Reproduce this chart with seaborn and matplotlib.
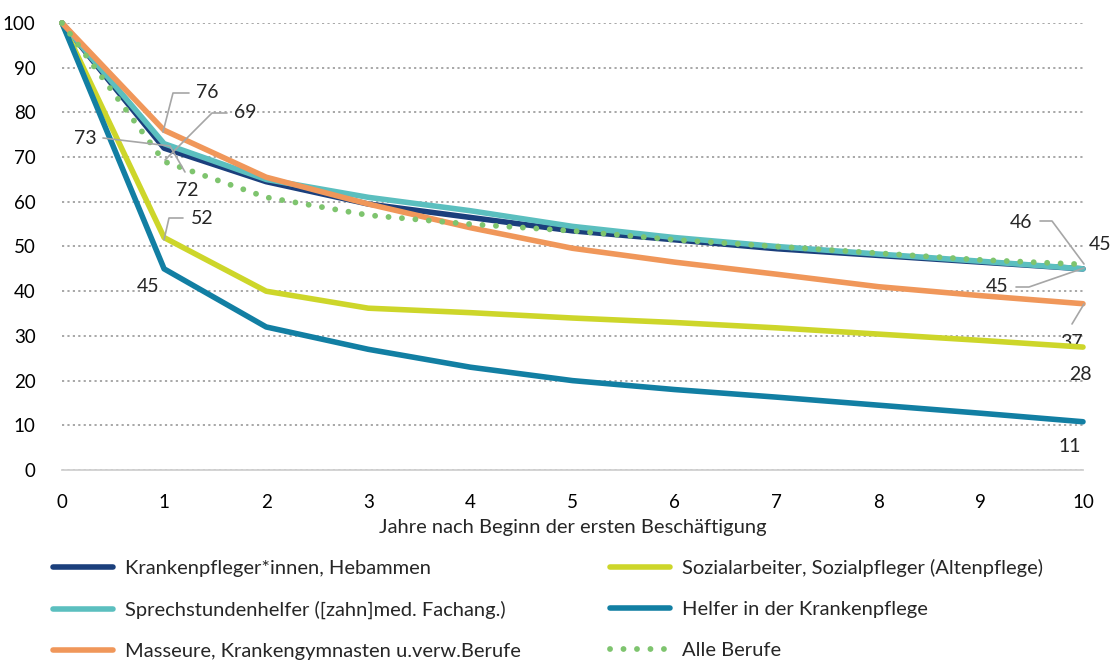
import numpy as np
import pandas as pd
import matplotlib
matplotlib.use("Agg")
import matplotlib.pyplot as plt
import seaborn as sns

# === Data ===
years = list(range(0, 11))
krankenpfleger = [100, 72, 64.5, 59.5, 56.5, 53.5, 51.5, 49.5, 48, 46.5, 45]
sozialarbeiter = [100, 52, 40, 36.2, 35.2, 34, 33, 31.8, 30.4, 29, 27.5]
sprechstunde = [100, 73, 65, 61, 58, 54.5, 52, 50, 48.3, 46.7, 45]
helfer = [100, 45, 32, 27, 23, 20, 18, 16.3, 14.5, 12.7, 10.8]
masseure = [100, 76, 65.5, 59.5, 54.2, 49.6, 46.5, 43.8, 41, 39, 37.2]
alle = [100, 69, 61, 57, 55, 53.5, 51.5, 50, 48.5, 47, 46]

names = [
    "Krankenpfleger*innen, Hebammen",
    "Sozialarbeiter, Sozialpfleger (Altenpflege)",
    "Sprechstundenhelfer ([zahn]med. Fachang.)",
    "Helfer in der Krankenpflege",
    "Masseure, Krankengymnasten u.verw.Berufe",
    "Alle Berufe",
]
colors = ["#1b3f7c", "#cdd62a", "#5bbfbf", "#127fa3", "#f0975a", "#7ec46e"]

df = pd.DataFrame({
    "Jahr": years * 6,
    "Wert": krankenpfleger + sozialarbeiter + sprechstunde + helfer + masseure + alle,
    "Beruf": sum([[n] * len(years) for n in names], []),
})

sns.set_theme(style="white")
plt.rcParams["font.family"] = ["Lato", "DejaVu Sans"]

fig = plt.figure(figsize=(11.15, 6.62), dpi=100)
ax = fig.add_axes([0.0556, 0.29, 0.9157, 0.6753])

# draw in order so the layering matches (dotted line on top)
draw_order = [4, 1, 3, 0, 2, 5]
for i in draw_order:
    sub = df[df["Beruf"] == names[i]]
    if i == 5:
        sns.lineplot(data=sub, x="Jahr", y="Wert", ax=ax, color=colors[i],
                     lw=4.2, linestyle=(0, (0.01, 2.3)), dash_capstyle="round",
                     label=names[i], clip_on=False, zorder=6)
    else:
        sns.lineplot(data=sub, x="Jahr", y="Wert", ax=ax, color=colors[i],
                     lw=4, label=names[i], clip_on=False, zorder=3 + i * 0.1)

ax.set_xlim(0, 10)
ax.set_ylim(0, 100)
ax.set_xticks(range(0, 11))
ax.set_yticks(range(0, 101, 10))
ax.tick_params(axis="both", labelsize=13.5, colors="black", length=0)
ax.tick_params(axis="x", pad=17)
ax.tick_params(axis="y", pad=19)

ax.yaxis.grid(True, color="#a0a0a0", linestyle=(0, (1.2, 1.8)), lw=1.3)
ax.xaxis.grid(False)
for s in ["top", "right", "left"]:
    ax.spines[s].set_visible(False)
ax.spines["bottom"].set_color("#d0d0d0")
ax.spines["bottom"].set_linewidth(1.3)

ax.set_xlabel("Jahre nach Beginn der ersten Beschäftigung", fontsize=14.5, labelpad=6)
ax.set_ylabel("")

# === Data labels with leader lines ===
lead = dict(color="#a6a6a6", lw=1.2)
fs = 14

def label(txt, xy_pix):
    ax.annotate(txt, xy=xy_pix, xycoords="figure pixels", fontsize=fs,
                ha="center", va="center", annotation_clip=False)

def leader(points):
    xs = [p[0] for p in points]
    ys = [662 - p[1] for p in points]
    ln = plt.Line2D(xs, ys, **lead)
    ln.set_transform(matplotlib.transforms.IdentityTransform())
    fig.add_artist(ln)

label("76", (207, 662 - 93))
leader([(189, 93), (173, 93), (163, 132)])
label("69", (245, 662 - 113))
leader([(227, 113), (212, 113), (165, 160)])
label("73", (85, 662 - 138))
leader([(103, 138), (170, 146)])
label("72", (187, 662 - 190))
leader([(170, 146), (185, 172)])
label("52", (202, 662 - 218))
leader([(183, 218), (169, 218), (164, 240)])
label("45", (148, 662 - 286))

label("46", (1021, 662 - 222))
leader([(1040, 221), (1052, 221), (1084, 264)])
label("45", (1100, 662 - 245))
label("45", (997, 662 - 287))
leader([(1016, 287), (1029, 287), (1084, 268)])
label("37", (1071, 662 - 342))
leader([(1072, 324), (1084, 304)])
label("28", (1080, 662 - 375))
label("11", (1070, 662 - 447))

# === Legend (row-wise: fill columns 0,2,4 then 1,3,5) ===
handles, labels_ = ax.get_legend_handles_labels()
hmap = dict(zip(labels_, handles))
order = [names[i] for i in [0, 2, 4, 1, 3, 5]]
ax.legend([hmap[n] for n in order], order, loc="upper left",
          bbox_to_anchor=(-0.0265, -0.159), ncol=2, frameon=False,
          fontsize=14.5, handlelength=3.0, handletextpad=0.55,
          columnspacing=4.45, labelspacing=1.17)

fig.savefig("out.png", dpi=100)
